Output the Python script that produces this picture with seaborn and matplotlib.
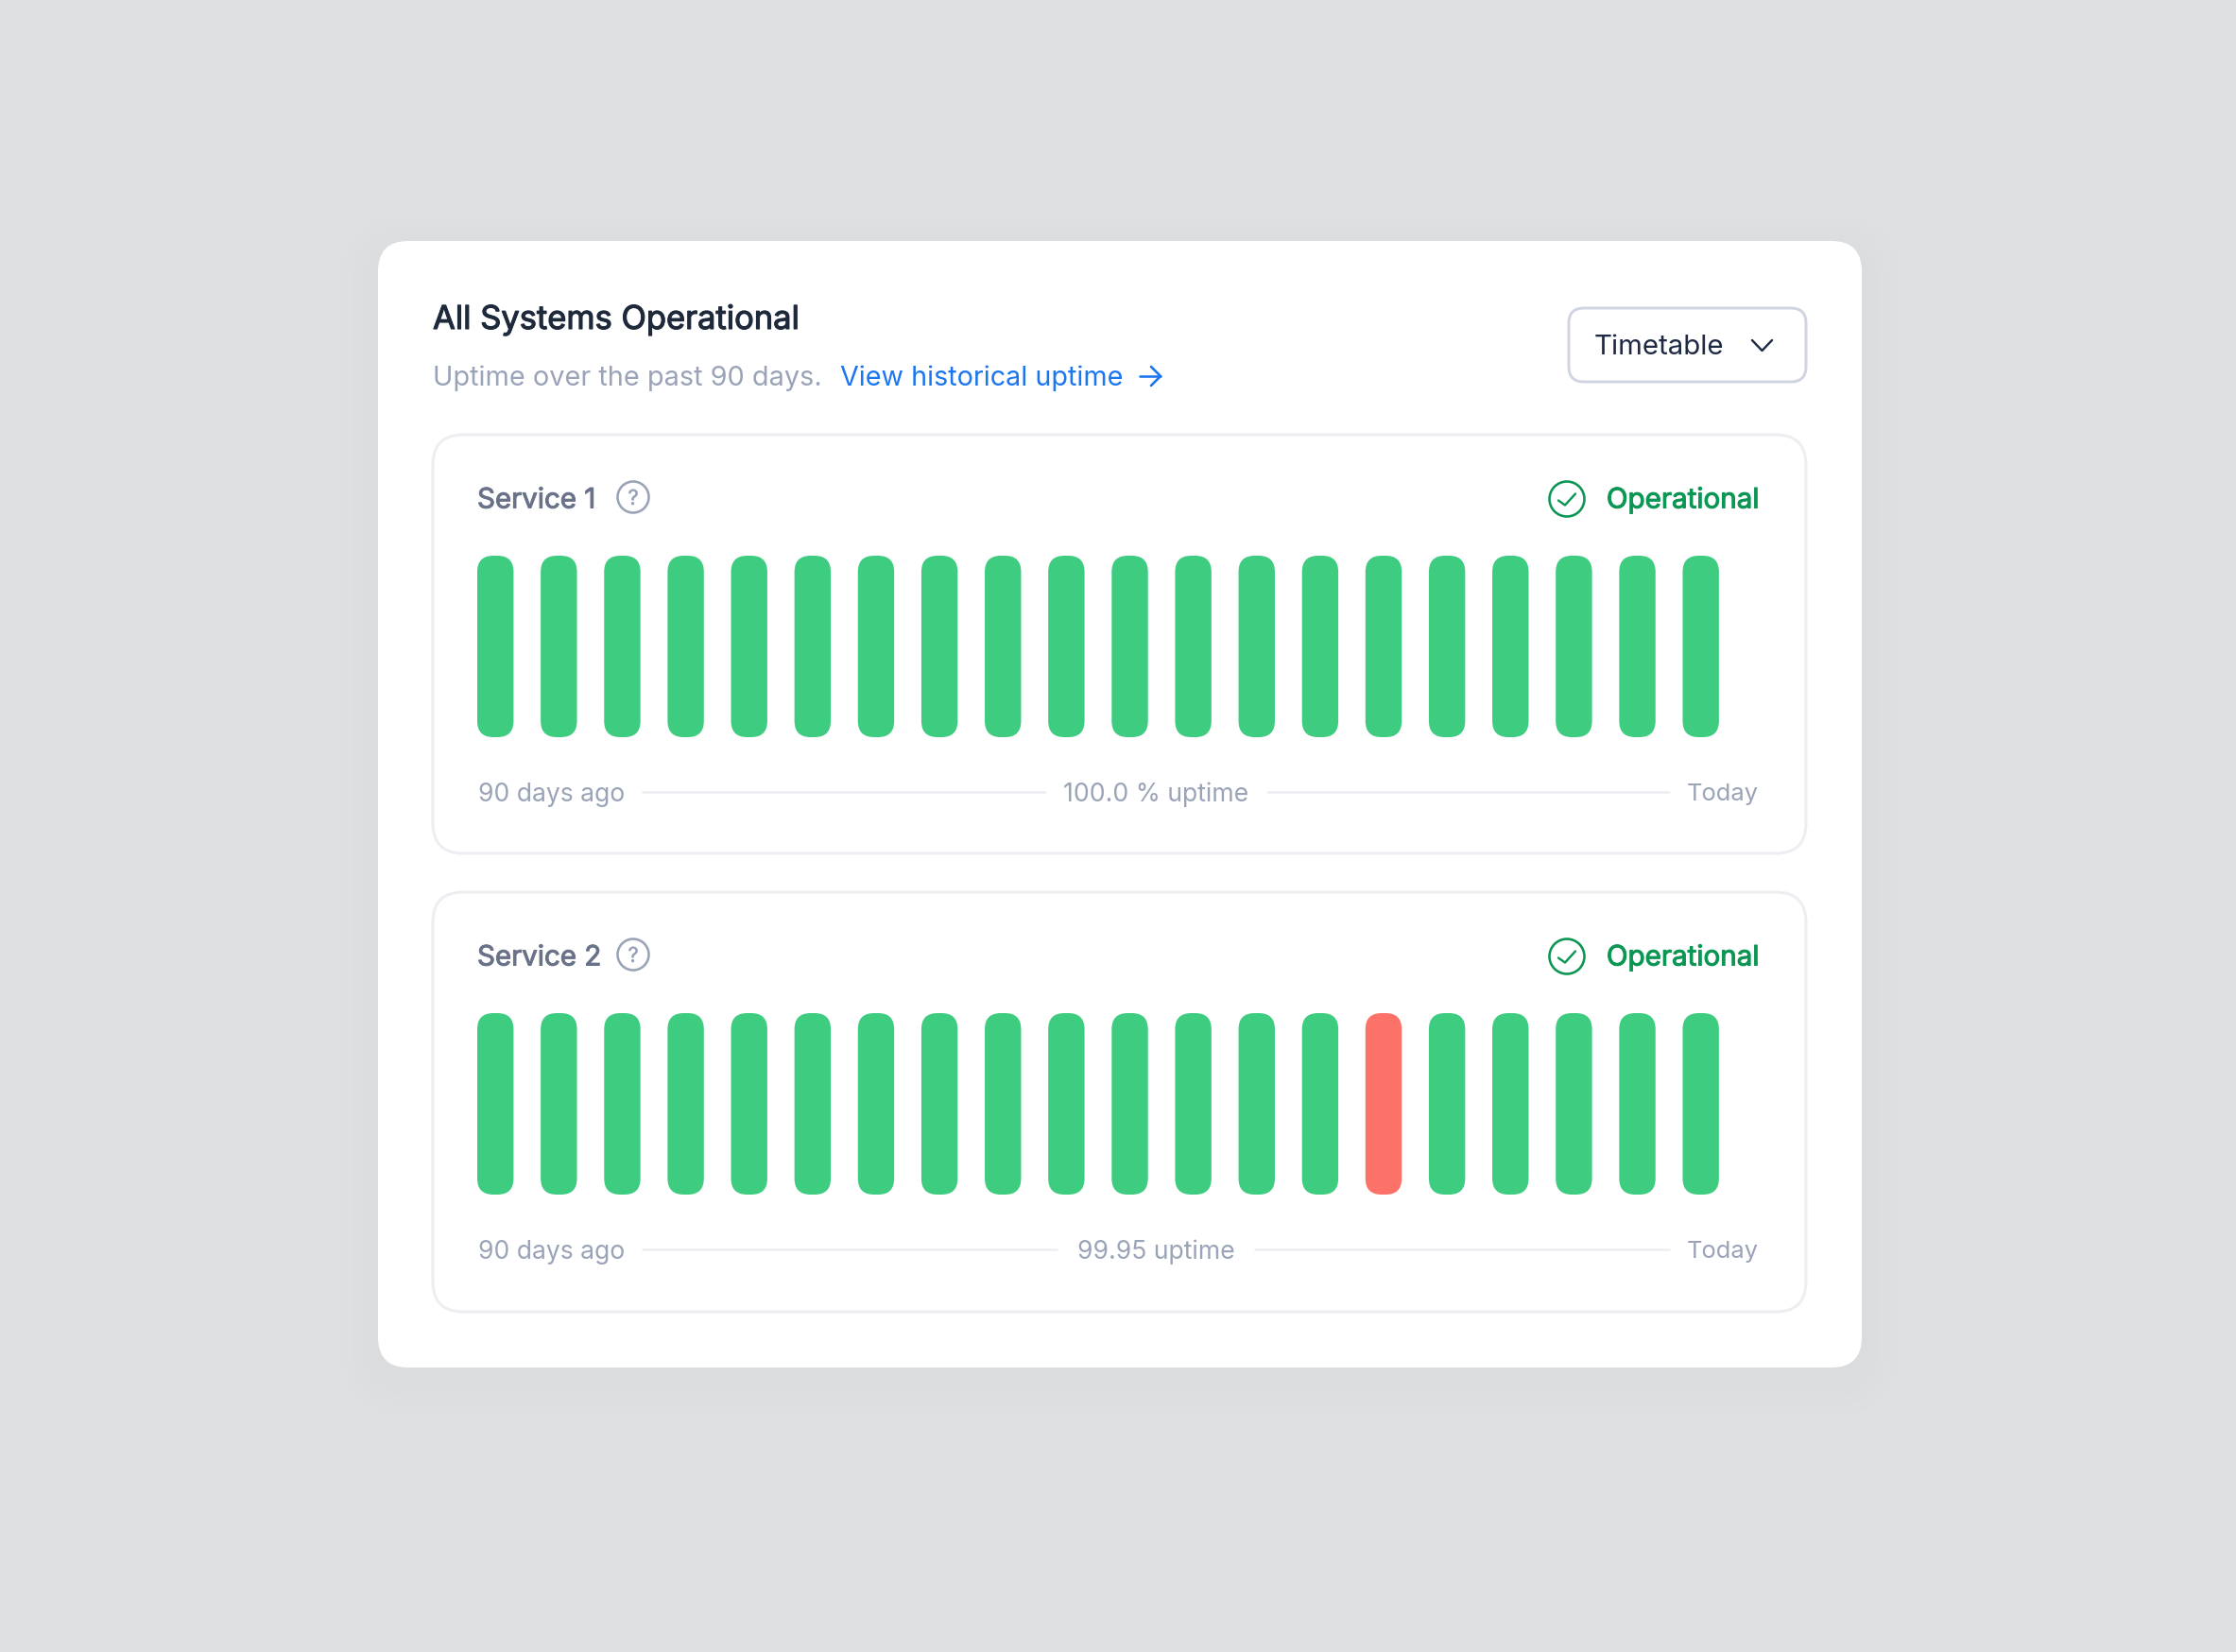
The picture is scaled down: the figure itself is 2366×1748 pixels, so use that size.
import matplotlib
matplotlib.use("Agg")
import matplotlib.pyplot as plt
from matplotlib.patches import FancyBboxPatch, Circle
import matplotlib.patheffects as pe
import pandas as pd
import seaborn as sns

# ---- data ----
segments = list(range(1, 21))
service_1_status = ["up"] * 20
service_2_status = ["up", "up", "up", "up", "up", "up", "up", "up", "up", "up",
                    "up", "up", "up", "up", "down", "up", "up", "up", "up", "up"]
service_1_height = [100, 100, 100, 100, 100, 100, 100, 100, 100, 100,
                    100, 100, 100, 100, 100, 100, 100, 100, 100, 100]
service_2_height = [100, 100, 100, 100, 100, 100, 100, 100, 100, 100,
                    100, 100, 100, 100, 100, 100, 100, 100, 100, 100]
service_names = ["Service 1", "Service 2"]
uptime_labels = ["100.0 % uptime", "99.95 uptime"]
status_label = "Operational"
title = "All Systems Operational"
subtitle = "Uptime over the past 90 days."
link = "View historical uptime"
dropdown = "Timetable"
left_label = "90 days ago"
right_label = "Today"

# ---- style ----
BG = "#DFE0E2"
GREEN = "#3ECC80"
RED = "#FD7268"
DARK = "#1E293B"
GRAY = "#9AA3B7"
BLUE = "#1B76F0"
SLATE = "#6A7289"
OK = "#0C9654"
BORDER = "#EDEEF2"
palette = {"up": GREEN, "down": RED}

sns.set_theme(style="white")
plt.rcParams["font.family"] = ["Inter", "DejaVu Sans"]

W, H, DPI = 2366, 1748, 100
fig = plt.figure(figsize=(W / DPI, H / DPI), dpi=DPI, facecolor=BG)
bg = fig.add_axes([0, 0, 1, 1], zorder=0)
bg.set_xlim(0, W)
bg.set_ylim(H, 0)
bg.axis("off")


def pt(px):
    return px * 72 / DPI


def rrect(ax, x0, y0, x1, y1, r, fc="white", ec="none", lw=0, alpha=None, z=1):
    p = FancyBboxPatch((x0, y0), x1 - x0, y1 - y0,
                       boxstyle=f"round,pad=0,rounding_size={r}",
                       fc=fc, ec=ec, lw=pt(lw), alpha=alpha, zorder=z)
    ax.add_patch(p)
    return p


def label(x, y, s, px, color, ha="left", weight=400, bold=0.0):
    t = bg.text(x, y, s, fontsize=pt(px), color=color, ha=ha, va="baseline",
                fontweight=weight, zorder=5)
    if bold:
        t.set_path_effects([pe.withStroke(linewidth=bold, foreground=color)])
    return t


def poly(xs, ys, color, lw=3.0):
    bg.plot(xs, ys, color=color, lw=pt(lw), solid_capstyle="round",
            solid_joinstyle="round", zorder=5)


# shadow and card
for g in [38, 28, 18, 8]:
    rrect(bg, 400 - g, 255 + 12 - g, 1970 + g, 1447 + 12 + g, 30 + g,
          fc="#70757F", alpha=0.006, z=1)
rrect(bg, 400, 255, 1970, 1447, 32, z=2)

# header
label(458, 348, title, 34.5, DARK, bold=0.8)
label(458, 408.5, subtitle, 28.9, GRAY)
label(889, 408.5, link, 28.7, BLUE)
poly([1206, 1228], [398, 398], BLUE, 2.6)
poly([1218, 1228, 1218], [388, 398, 408], BLUE, 2.6)
rrect(bg, 1660, 326, 1911, 404, 16, ec="#D0D5E1", lw=3, z=3)
label(1687, 375, dropdown, 29.5, "#1E2A44")
poly([1854, 1864.5, 1875], [360, 371, 360], "#1E2A44", 2.4)

offsets = [0, 484]
statuses = [service_1_status, service_2_status]
heights = [service_1_height, service_2_height]
uptime_gaps = [(1106, 1341), (1118, 1328)]
panel_heights = [(460, 903), (460, 904)]

for k, dy in enumerate(offsets):
    top, bottom = panel_heights[k]
    rrect(bg, 458, top + dy, 1911, bottom + dy, 32, ec=BORDER, lw=3, z=3)
    label(505, 537.5 + dy, service_names[k], 29.5, SLATE, bold=0.7)
    bg.add_patch(Circle((670, 526 + dy), 16.5, fc="none", ec=GRAY, lw=pt(2.6), zorder=5))
    q = bg.text(670, 526 + dy, "?", fontsize=pt(22), color=GRAY, ha="center",
                va="center_baseline", zorder=5)
    q.set_path_effects([pe.withStroke(linewidth=0.3, foreground=GRAY)])
    bg.add_patch(Circle((1658, 528 + dy), 18.5, fc="none", ec=OK, lw=pt(2.6), zorder=5))
    poly([1649, 1656, 1667], [529.5 + dy, 534.5 + dy, 522.5 + dy], OK, 2.4)
    label(1861, 537.5 + dy, status_label, 29.6, OK, ha="right", bold=0.7)

    label(506, 847.5 + dy, left_label, 26.5, GRAY)
    label(1861, 847.5 + dy, right_label, 25.5, GRAY, ha="right")
    label(1223, 847.5 + dy, uptime_labels[k], 26.6, GRAY, ha="center")
    a, b = uptime_gaps[k]
    bg.plot([680, a], [837.5 + dy, 837.5 + dy], color=BORDER, lw=pt(2.6), zorder=5)
    bg.plot([b, 1766], [837.5 + dy, 837.5 + dy], color=BORDER, lw=pt(2.6), zorder=5)

    # bars drawn by seaborn, in an axes spanning 20 slots of the track
    bar_top, bar_bottom = 588 + dy, 780 + dy
    pitch = 67.13
    ax_left = 505 + 19.2 - pitch / 2
    ax_w = pitch * 20
    ax = fig.add_axes([ax_left / W, 1 - bar_bottom / H, ax_w / W, (bar_bottom - bar_top) / H],
                      zorder=3)
    ax.patch.set_alpha(0)
    df = pd.DataFrame({"segment": segments, "height": heights[k], "status": statuses[k]})
    sns.barplot(data=df, x="segment", y="height", hue="status", hue_order=["up", "down"],
                palette=palette, dodge=False, width=38.4 / pitch, saturation=1,
                legend=False, ax=ax)
    ax.set_xlim(-0.5, 19.5)
    ax.set_ylim(0, 100)
    ax.axis("off")
    # round the seaborn bars' corners, keeping their data geometry
    px_per_x = pitch
    px_per_y = (bar_bottom - bar_top) / 100
    r = 17 / px_per_x
    for bar in list(ax.patches):
        if bar.get_width() == 0 or bar.get_height() == 0:
            continue
        rounded = FancyBboxPatch((bar.get_x(), bar.get_y()), bar.get_width(), bar.get_height(),
                                 boxstyle=f"round,pad=0,rounding_size={r}",
                                 mutation_aspect=px_per_x / px_per_y,
                                 fc=bar.get_facecolor(), ec="none", lw=0)
        bar.remove()
        ax.add_patch(rounded)

fig.savefig("out.png", dpi=DPI, facecolor=BG)
